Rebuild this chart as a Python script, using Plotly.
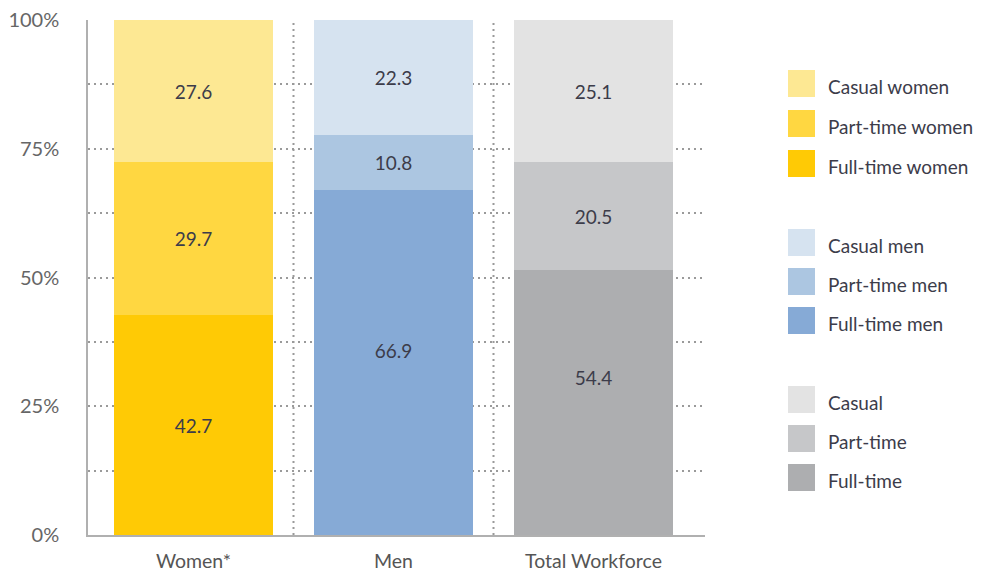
import plotly.graph_objects as go

categories = ["Women*", "Men", "Total Workforce"]
# segment heights as drawn in the reference (%)
full_time = [42.7, 66.9, 51.4]
part_time = [29.7, 10.8, 21.0]
casual = [27.6, 22.3, 27.6]
# value labels as printed on the reference
full_labels = ["42.7", "66.9", "54.4"]
part_labels = ["29.7", "10.8", "20.5"]
casual_labels = ["27.6", "22.3", "25.1"]

legend_names = [
    ["Casual women", "Part-time women", "Full-time women"],
    ["Casual men", "Part-time men", "Full-time men"],
    ["Casual", "Part-time", "Full-time"],
]
# colours per category
full_colors = ["#FFCA05", "#86AAD6", "#ADAEB0"]
part_colors = ["#FFD741", "#ACC6E1", "#C6C7C9"]
casual_colors = ["#FDE893", "#D6E3F0", "#E3E3E3"]

y_ticks = [0, 12.5, 25, 37.5, 50, 62.5, 75, 87.5, 100]
y_ticktext = ["0%", "", "25%", "", "50%", "", "75%", "", "100%"]

FONT = "Lato"
TXT = "#3c3c4a"

OFF = 8  # page body margin
W, H = 982 - OFF, 572 - OFF
L, T, R_EDGE, B_EDGE = 88 - OFF, 20 - OFF, 705 - OFF, 535 - OFF

# label nudges (extra blank lines below the label lift it within its segment)
full_pad = ["", "<br>&nbsp;", "<br>&nbsp;<br>&nbsp;"]

fig = go.Figure()
x_idx = list(range(len(categories)))
traces = [
    (full_time, full_colors, [l + p for l, p in zip(full_labels, full_pad)]),
    (part_time, part_colors, part_labels),
    (casual, casual_colors, casual_labels),
]
for vals, cols, labels in traces:
    fig.add_trace(go.Bar(
        x=x_idx, y=vals, marker=dict(color=cols, line=dict(width=0)),
        width=0.795, text=labels, textposition="inside",
        insidetextanchor="middle", textangle=0,
        textfont=dict(family=FONT, size=19, color=TXT),
        showlegend=False, hoverinfo="skip"))

shapes = []
DOT = "2px,4px"
for xv in [0.5, 1.5]:
    shapes.append(dict(type="line", xref="x", yref="y", x0=xv, x1=xv, y0=0, y1=100,
                       line=dict(color="#9a9a9a", width=2, dash=DOT), layer="below"))

def px_x(px):
    return (px - OFF - L) / (R_EDGE - L)

def px_y(py):
    return (B_EDGE - (py - OFF)) / (B_EDGE - T)

annotations = []
row_centers = [[83.5, 123.5, 163.5], [242.5, 281.5, 320.5], [399.5, 438.5, 477.5]]
for g in range(3):
    cols = [casual_colors[g], part_colors[g], full_colors[g]]
    for r in range(3):
        cy = row_centers[g][r]
        shapes.append(dict(type="rect", xref="paper", yref="paper",
                           x0=px_x(788), x1=px_x(815), y0=px_y(cy + 13.5), y1=px_y(cy - 13.5),
                           fillcolor=cols[r], line=dict(width=0)))
        annotations.append(dict(xref="paper", yref="paper", x=px_x(826), y=px_y(cy + 3),
                                text=legend_names[g][r], showarrow=False, xanchor="left",
                                yanchor="middle", font=dict(family=FONT, size=19, color=TXT)))

fig.update_layout(
    width=W, height=H, barmode="stack", bargap=0.2,
    margin=dict(l=L, r=W - R_EDGE, t=T, b=H - B_EDGE, autoexpand=False),
    plot_bgcolor="white", paper_bgcolor="white",
    font=dict(family=FONT, size=18, color="#555555"),
    shapes=shapes, annotations=annotations,
    xaxis=dict(range=[-0.5275, 2.5575], tickvals=x_idx, ticktext=categories,
               showgrid=False, zeroline=False, showline=True, linecolor="#b0b0b0",
               linewidth=1.5, ticks="", automargin=False, ticklabelstandoff=8,
               tickfont=dict(family=FONT, size=19.5, color="#555555")),
    yaxis=dict(range=[0, 100], tickvals=y_ticks, ticktext=y_ticktext,
               showgrid=True, gridcolor="#9a9a9a", griddash=DOT, gridwidth=2,
               zeroline=False, showline=True, linecolor="#b0b0b0", linewidth=1.5,
               ticks="", ticklabelstandoff=23, automargin=False,
               ticklabeloverflow="allow",
               tickfont=dict(family=FONT, size=20, color="#666666")),
)

fig.write_html(
    "out.html",
    post_script="document.documentElement.style.overflow='hidden';"
                "document.body.style.overflow='hidden';",
)
